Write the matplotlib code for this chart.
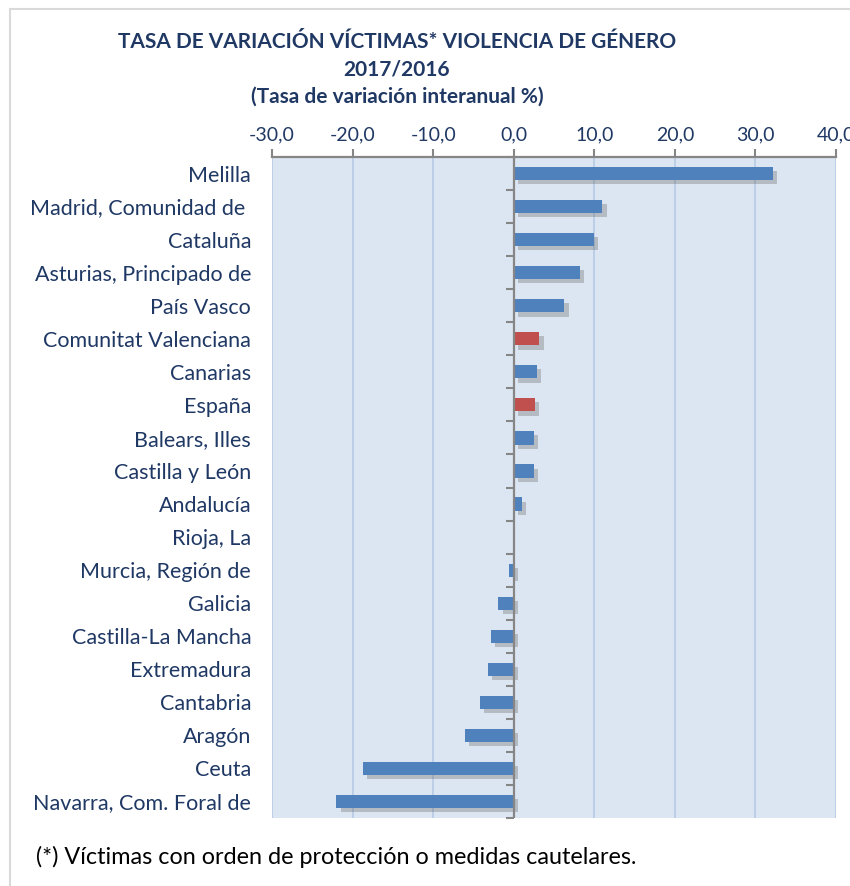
import matplotlib
matplotlib.use("Agg")
import matplotlib.pyplot as plt
import matplotlib.patheffects as pe
from matplotlib.patches import Rectangle
from matplotlib.ticker import FuncFormatter, FixedLocator

plt.rcParams['font.family'] = ['Lato', 'DejaVu Sans']

regions = ["Melilla", "Madrid, Comunidad de ", "Cataluña", "Asturias, Principado de",
           "País Vasco", "Comunitat Valenciana", "Canarias", "España", "Balears, Illes",
           "Castilla y León", "Andalucía", "Rioja, La", "Murcia, Región de", "Galicia",
           "Castilla-La Mancha", "Extremadura", "Cantabria", "Aragón", "Ceuta",
           "Navarra, Com. Foral de"]
variation = [32.2, 11.0, 10.0, 8.2, 6.3, 3.2, 2.9, 2.6, 2.5, 2.5, 1.0, 0.0,
             -0.6, -1.9, -2.8, -3.2, -4.2, -6.1, -18.7, -22.0]
highlight = ["Comunitat Valenciana", "España"]
x_ticks = [-30, -20, -10, 0, 10, 20, 30, 40]

navy = "#1F3864"
blue = "#4F81BD"
red = "#C0504D"
axis_gray = "#868686"

fig = plt.figure(figsize=(8.5, 8.86), dpi=100)
# outer chart frame
fig.patches.append(Rectangle((10 / 850, -0.02), 1.1, 1 - 9 / 886 + 0.02,
                             transform=fig.transFigure, fill=False,
                             edgecolor="#D9D9D9", lw=1.5))

ax = fig.add_axes([272 / 850, 1 - 818 / 886, (836 - 272) / 850, (818 - 157) / 886])
ax.set_facecolor("#DCE6F2")

pos = list(range(len(regions)))
colors = [red if r in highlight else blue for r in regions]
bars = ax.barh(pos, variation, height=0.4, color=colors, zorder=3)
for b in bars:
    b.set_path_effects([pe.SimplePatchShadow(offset=(3, -3), shadow_rgbFace="#595959", alpha=0.3),
                        pe.Normal()])

ax.set_xlim(-30, 40)
ax.set_ylim(len(regions) - 0.5, -0.5)

ax.xaxis.tick_top()
ax.xaxis.set_major_locator(FixedLocator(x_ticks))
ax.xaxis.set_major_formatter(FuncFormatter(lambda v, p: f"{v:.1f}".replace(".", ",")))
ax.tick_params(axis="x", direction="out", length=6, width=1.5, color=axis_gray,
               labelsize=14, labelcolor=navy, pad=4)
ax.grid(axis="x", color="#B9CDE5", lw=1.3, zorder=1)

ax.set_yticks(pos)
ax.set_yticklabels(regions)
ax.tick_params(axis="y", length=0, labelsize=15.5, labelcolor=navy, pad=15)

for s in ["left", "right", "bottom"]:
    ax.spines[s].set_visible(False)
ax.spines["top"].set_color(axis_gray)
ax.spines["top"].set_linewidth(1.6)

# vertical category axis at zero with ticks between categories
ax.axvline(0, color=axis_gray, lw=1.6, zorder=4)
sec = ax.secondary_yaxis(30 / 70)
sec.set_yticks([i - 0.5 for i in range(len(regions) + 1)])
sec.set_yticklabels([])
sec.tick_params(axis="y", direction="out", length=6, width=1.5, color=axis_gray)
sec.spines["left"].set_visible(False)

fig.text(397 / 850, 1 - 42 / 886, "TASA DE VARIACIÓN VÍCTIMAS* VIOLENCIA DE GÉNERO",
         ha="center", va="center", fontsize=15, fontweight="bold", color=navy)
fig.text(397 / 850, 1 - 70 / 886, "2017/2016",
         ha="center", va="center", fontsize=15, fontweight="bold", color=navy)
fig.text(397 / 850, 1 - 97 / 886, "(Tasa de variación interanual %)",
         ha="center", va="center", fontsize=15, fontweight="bold", color=navy)
fig.text(36 / 850, 1 - 857 / 886, "(*) Víctimas con orden de protección o medidas cautelares.",
         ha="left", va="center", fontsize=16.8, color="black")

fig.savefig("out.png", dpi=100)
